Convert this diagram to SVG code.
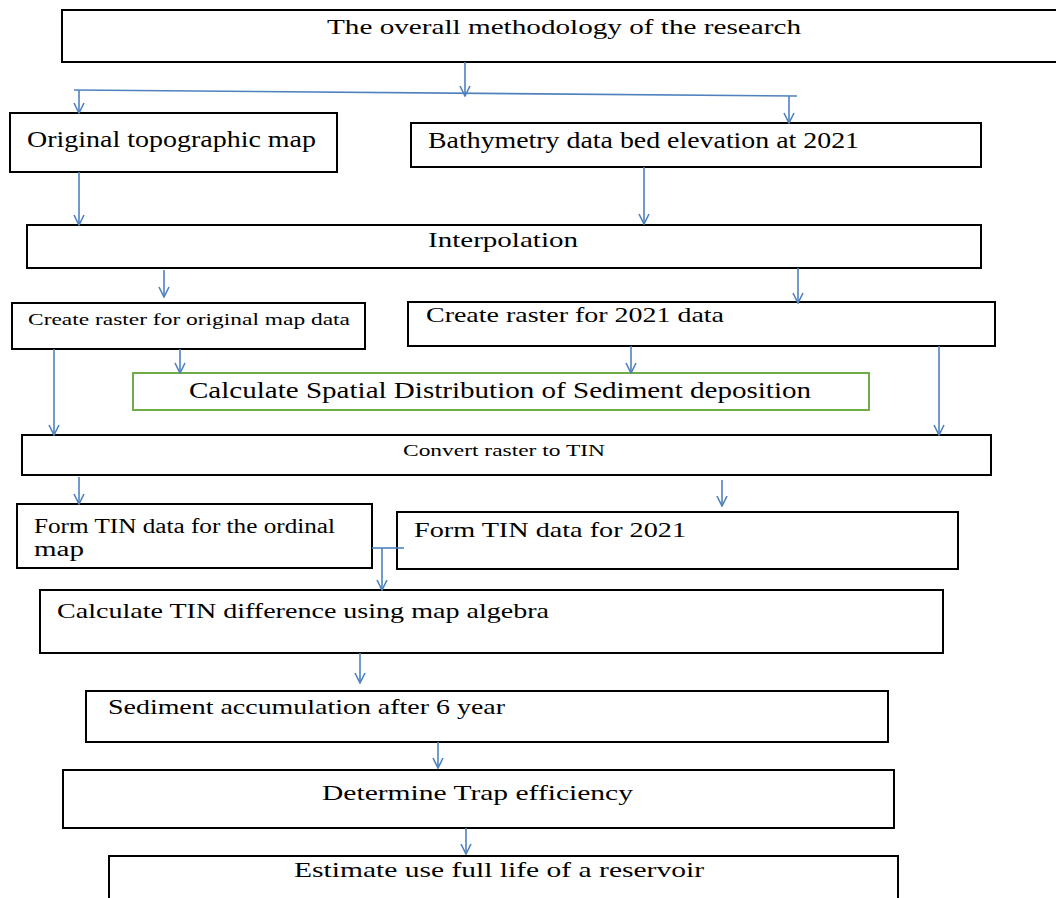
<svg xmlns="http://www.w3.org/2000/svg" width="1056" height="898" viewBox="0 0 1056 898">
<defs>
<style>
.box{fill:#fff;stroke:#000;stroke-width:2}
.gbox{fill:#fff;stroke:#70AD47;stroke-width:2}
.t{font-family:"Liberation Serif","Times New Roman",serif;fill:#000}
.c{fill:none;stroke:#4F81BD;stroke-width:1.6}
</style>
<marker id="ah" viewBox="0 0 12 12" refX="11" refY="6" markerWidth="12" markerHeight="12" markerUnits="userSpaceOnUse" orient="auto">
<path d="M1,1 L11,6 L1,11" fill="none" stroke="#4F81BD" stroke-width="1.6"/>
</marker>
</defs>
<rect width="1056" height="898" fill="#fff"/>

<g id="n-top">
<rect class="box" x="62" y="10" width="1004" height="52"/>
<text class="t" x="327" y="34" font-size="22" textLength="474" lengthAdjust="spacingAndGlyphs">The overall methodology of the research</text>
</g>
<g id="n-orig">
<rect class="box" x="10" y="113" width="327" height="59"/>
<text class="t" x="27" y="147" font-size="23" textLength="289" lengthAdjust="spacingAndGlyphs">Original topographic map</text>
</g>
<g id="n-bathy">
<rect class="box" x="411" y="123" width="570" height="44"/>
<text class="t" x="428" y="148" font-size="23" textLength="431" lengthAdjust="spacingAndGlyphs">Bathymetry data bed elevation at 2021</text>
</g>
<g id="n-interp">
<rect class="box" x="27" y="225" width="954" height="43"/>
<text class="t" x="428" y="247" font-size="22" textLength="150" lengthAdjust="spacingAndGlyphs">Interpolation</text>
</g>
<g id="n-raster-orig">
<rect class="box" x="12" y="303" width="353" height="46"/>
<text class="t" x="28" y="325" font-size="17" textLength="322" lengthAdjust="spacingAndGlyphs">Create raster for original map data</text>
</g>
<g id="n-raster-2021">
<rect class="box" x="408" y="302" width="587" height="44"/>
<text class="t" x="426" y="322" font-size="22" textLength="298" lengthAdjust="spacingAndGlyphs">Create raster for 2021 data</text>
</g>
<g id="n-spatial">
<rect class="gbox" x="133" y="373" width="736" height="37"/>
<text class="t" x="189" y="398" font-size="23" textLength="622" lengthAdjust="spacingAndGlyphs">Calculate Spatial Distribution of Sediment deposition</text>
</g>
<g id="n-tin">
<rect class="box" x="22" y="435" width="969" height="40"/>
<text class="t" x="403" y="456" font-size="17" textLength="202" lengthAdjust="spacingAndGlyphs">Convert raster to TIN</text>
</g>
<g id="n-tin-orig">
<rect class="box" x="17" y="504" width="355" height="64"/>
<text class="t" x="34" y="533" font-size="20" textLength="301" lengthAdjust="spacingAndGlyphs">Form TIN data for the ordinal</text>
<text class="t" x="34" y="556" font-size="20" textLength="50" lengthAdjust="spacingAndGlyphs">map</text>
</g>
<g id="n-tin-2021">
<rect class="box" x="397" y="512" width="561" height="57"/>
<text class="t" x="414" y="537" font-size="22" textLength="272" lengthAdjust="spacingAndGlyphs">Form TIN data for 2021</text>
</g>
<g id="n-diff">
<rect class="box" x="40" y="590" width="903" height="63"/>
<text class="t" x="57" y="618" font-size="21" textLength="492" lengthAdjust="spacingAndGlyphs">Calculate TIN difference using map algebra</text>
</g>
<g id="n-accum">
<rect class="box" x="86" y="691" width="802" height="51"/>
<text class="t" x="108" y="714" font-size="21" textLength="397" lengthAdjust="spacingAndGlyphs">Sediment accumulation after 6 year</text>
</g>
<g id="n-trap">
<rect class="box" x="63" y="770" width="831" height="58"/>
<text class="t" x="322" y="800" font-size="22" textLength="311" lengthAdjust="spacingAndGlyphs">Determine Trap efficiency</text>
</g>
<g id="n-life">
<rect class="box" x="109" y="856" width="789" height="50"/>
<text class="t" x="294" y="877" font-size="22" textLength="410" lengthAdjust="spacingAndGlyphs">Estimate use full life of a reservoir</text>
</g>

<g id="connectors">
<path class="c" d="M74,90 L797,96" stroke-width="2.4"/>
<path class="c" d="M465,62 L465,96" marker-end="url(#ah)"/>
<path class="c" d="M79,90 L79,113" marker-end="url(#ah)"/>
<path class="c" d="M789,96 L789,123" marker-end="url(#ah)"/>
<path class="c" d="M79,172 L79,225" marker-end="url(#ah)"/>
<path class="c" d="M644,167 L644,224" marker-end="url(#ah)"/>
<path class="c" d="M164,270 L164,297" marker-end="url(#ah)"/>
<path class="c" d="M798,268 L798,303" marker-end="url(#ah)"/>
<path class="c" d="M54,349 L54,435" marker-end="url(#ah)"/>
<path class="c" d="M180,349 L180,373" marker-end="url(#ah)"/>
<path class="c" d="M631,346 L631,373" marker-end="url(#ah)"/>
<path class="c" d="M939,346 L939,435" marker-end="url(#ah)"/>
<path class="c" d="M79,477 L79,504" marker-end="url(#ah)"/>
<path class="c" d="M722,480 L722,506" marker-end="url(#ah)"/>
<path class="c" d="M372,548 L404,548"/>
<path class="c" d="M382,548 L382,590" marker-end="url(#ah)"/>
<path class="c" d="M360,653 L360,683" marker-end="url(#ah)"/>
<path class="c" d="M438,742 L438,768" marker-end="url(#ah)"/>
<path class="c" d="M466,828 L466,854" marker-end="url(#ah)"/>
</g>
</svg>
